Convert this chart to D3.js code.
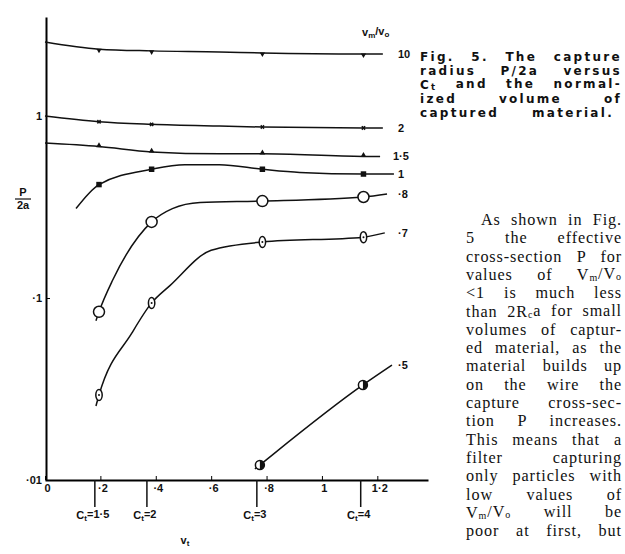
<!DOCTYPE html>
<html>
<head>
<meta charset="utf-8">
<script src="https://cdn.jsdelivr.net/npm/d3@7"></script>
<style>
body { margin:0; background:#fff; }
text { fill:#111; }
.lab { font-family:"Liberation Sans", Arial, sans-serif; font-weight:bold; font-size:11px; }
.cap { font-family:"DejaVu Sans", sans-serif; font-weight:bold; font-size:12px; letter-spacing:2.3px; }
.body { font-family:"Liberation Serif", "Times New Roman", serif; font-size:16.2px; letter-spacing:0.9px; }
</style>
</head>
<body>
<div id="chart"></div>
<script>

// values: x = v_t, y = P/2a (log)
const markV = [0.195, 0.385, 0.785, 1.15]   // C_t points where the marks sit

const v10 = [0, 0.195, 0.385, 0.63, 0.785, 1.15, 1.22]
const p10 = [2.55, 2.33, 2.28, 2.25, 2.22, 2.19, 2.19]
const mark10 = [2.33, 2.28, 2.22, 2.19]

const v2 = [0, 0.195, 0.385, 0.63, 0.785, 1.15, 1.22]
const p2 = [1.0, 0.93, 0.90, 0.88, 0.87, 0.86, 0.86]
const mark2 = [0.93, 0.90, 0.87, 0.86]

const v15 = [0, 0.195, 0.385, 0.63, 0.785, 1.15, 1.21]
const p15 = [0.71, 0.68, 0.635, 0.62, 0.62, 0.60, 0.60]
const mark15 = [0.68, 0.635, 0.62, 0.60]

const v1 = [0.112, 0.195, 0.385, 0.505, 0.63, 0.785, 0.92, 1.15, 1.26]
const p1 = [0.31, 0.42, 0.51, 0.54, 0.54, 0.51, 0.49, 0.48, 0.48]
const mark1 = [0.42, 0.51, 0.51, 0.48]

const v08 = [0.184, 0.195, 0.245, 0.385, 0.46, 0.56, 0.785, 1.15, 1.235]
const p08 = [0.075, 0.084, 0.126, 0.262, 0.31, 0.335, 0.341, 0.359, 0.373]
const mark08 = [0.084, 0.262, 0.341, 0.359]

const v07 = [0.184, 0.195, 0.314, 0.385, 0.451, 0.6, 0.785, 1.15, 1.227]
const p07 = [0.0255, 0.0293, 0.0643, 0.094, 0.117, 0.183, 0.203, 0.216, 0.228]
const mark07 = [0.0293, 0.094, 0.203, 0.216]

const v05 = [0.758, 0.776, 1.148, 1.253]
const p05 = [0.0115, 0.0121, 0.0333, 0.0428]
const markV05 = [0.776, 1.148]
const mark05 = [0.0121, 0.0333]

const ratioNames = ["10", "2", "1·5", "1", "·8", "·7", "·5"]

const xTicks = [0, 0.2, 0.4, 0.6, 0.8, 1, 1.2]
const xTickLabels = ["0", "·2", "·4", "·6", "·8", "1", "1·2"]
const yTicks = [0.01, 0.1, 1]
const yTickLabels = ["·01", "·1", "1"]

const ctV = [0.18, 0.368, 0.765, 1.14]
const ctLabels = ["1·5", "2", "3", "4"]

const captionLines = ["Fig. 5. The capture", "radius P/2a versus", "C|t| and the normal-", "ized volume of", "captured material."]
const bodyLines = [
  "As shown in Fig.", "5 the effective", "cross-section P for", "values of V|m|/V|o|",
  "<1 is much less", "than 2R|c|a for small", "volumes of captur-", "ed material, as the",
  "material builds up", "on the wire the", "capture cross-sec-", "tion P increases.",
  "This means that a", "filter capturing", "only particles with", "low values of",
  "V|m|/V|o| will be", "poor at first, but"
]

const W = 625, H = 554
const svg = d3.select("#chart").append("svg").attr("width", W).attr("height", H)

const x = d3.scaleLinear().domain([0, 1.383]).range([45, 428])
const y = d3.scaleLog().domain([0.01, 3.5]).range([480, 17])

// text with |sub| markup
function addRich(sel, str, subSize, shift) {
  shift = shift || "0.25em"
  str.split("|").forEach((part, i) => {
    if (!part) return
    const t = sel.append("tspan").text(part)
    if (i % 2 == 1) t.attr("font-size", subSize).attr("dy", shift)
    else if (i > 0) t.attr("dy", "-" + shift)
  })
}

// stretch the word gaps so the line ends at xEnd
function justify(t, x0, xEnd) {
  const w = t.node().getComputedTextLength()
  const n = (t.text().match(/ /g) || []).length
  if (n) t.attr("word-spacing", ((xEnd - x0) - w) / n)
}

// axes
const xAxis = d3.axisBottom(x).tickValues(xTicks).tickSize(-4).tickSizeOuter(0).tickPadding(4)
  .tickFormat((d, i) => xTickLabels[i])
const gx = svg.append("g").attr("transform", "translate(0,480)").call(xAxis)
gx.select(".domain").attr("stroke-width", 2)
gx.selectAll("text").attr("class", "lab").attr("font-size", null).attr("font-family", null).attr("dx", 2)

const yAxis = d3.axisLeft(y).tickValues(yTicks).tickSize(-4).tickSizeOuter(0).tickPadding(4)
  .tickFormat((d, i) => yTickLabels[i])
const gy = svg.append("g").attr("transform", "translate(46,0)").call(yAxis)
gy.select(".domain").attr("stroke-width", 2)
gy.selectAll("text").attr("class", "lab").attr("font-size", null).attr("font-family", null)

// C_t markers under the axis
ctV.forEach((v, i) => {
  svg.append("line").attr("x1", x(v)).attr("x2", x(v)).attr("y1", 480).attr("y2", 507)
    .attr("stroke", "#111").attr("stroke-width", 1.5)
  const t = svg.append("text").attr("class", "lab").attr("x", x(v) - 2).attr("y", 519).attr("text-anchor", "middle")
  addRich(t, "C|t|=" + ctLabels[i], 8)
})

const vt = svg.append("text").attr("class", "lab").attr("x", 185).attr("y", 544).attr("text-anchor", "middle")
addRich(vt, "v|t|", 8)

// y label P over 2a
svg.append("text").attr("class", "lab").attr("x", 23).attr("y", 196).attr("text-anchor", "middle").text("P")
svg.append("line").attr("x1", 15).attr("x2", 31).attr("y1", 199).attr("y2", 199).attr("stroke", "#111").attr("stroke-width", 1.2)
svg.append("text").attr("class", "lab").attr("x", 23).attr("y", 209).attr("text-anchor", "middle").text("2a")

// series
const seriesList = [
  { v: v10, p: p10, m: mark10, mv: markV, sym: "down" },
  { v: v2, p: p2, m: mark2, mv: markV, sym: "x" },
  { v: v15, p: p15, m: mark15, mv: markV, sym: "up" },
  { v: v1, p: p1, m: mark1, mv: markV, sym: "square" },
  { v: v08, p: p08, m: mark08, mv: markV, sym: "circle" },
  { v: v07, p: p07, m: mark07, mv: markV, sym: "oval" },
  { v: v05, p: p05, m: mark05, mv: markV05, sym: "half" }
]

const line = d3.line().x(d => x(d[0])).y(d => y(d[1])).curve(d3.curveMonotoneX)

seriesList.forEach((s, k) => {
  svg.append("path").datum(d3.zip(s.v, s.p)).attr("d", line)
    .attr("fill", "none").attr("stroke", "#111").attr("stroke-width", 1.5)

  const g = svg.append("g")
  d3.zip(s.mv, s.m).forEach(d => {
    const m = g.append("g").attr("transform", `translate(${x(d[0])},${y(d[1])})`)
    if (s.sym == "down") m.append("path").attr("d", d3.symbol(d3.symbolTriangle, 12)()).attr("transform", "rotate(180) translate(0,-1)").attr("fill", "#111")
    if (s.sym == "up") m.append("path").attr("d", d3.symbol(d3.symbolTriangle, 14)()).attr("transform", "translate(0,-1)").attr("fill", "#111")
    if (s.sym == "x") m.append("path").attr("d", d3.symbol(d3.symbolCross, 12)()).attr("transform", "rotate(45)").attr("fill", "#111")
    if (s.sym == "square") m.append("path").attr("d", d3.symbol(d3.symbolSquare, 30)()).attr("fill", "#111")
    if (s.sym == "circle") m.append("circle").attr("r", 5.5).attr("fill", "#fff").attr("stroke", "#111").attr("stroke-width", 1.5)
    if (s.sym == "oval") {
      m.append("ellipse").attr("rx", 3.2).attr("ry", 5.5).attr("fill", "#fff").attr("stroke", "#111").attr("stroke-width", 1.5)
      m.append("circle").attr("r", 1).attr("fill", "#111")
    }
    if (s.sym == "half") {
      m.append("circle").attr("r", 4.5).attr("fill", "#fff").attr("stroke", "#111").attr("stroke-width", 1.5)
      m.append("path").attr("d", "M0,-4.5 A4.5,4.5 0 0 1 0,4.5 Z").attr("fill", "#111")
    }
  })

  const last = s.p[s.p.length - 1]
  svg.append("text").attr("class", "lab").attr("x", k == 2 ? 393 : 398).attr("y", y(last) + 4).text(ratioNames[k])
})

// legend header V_m/V_o
const hdr = svg.append("text").attr("class", "lab").attr("x", 362).attr("y", 36)
addRich(hdr, "v|m|/v|o|", 8)

// caption
captionLines.forEach((c, i) => {
  const t = svg.append("text").attr("class", "cap").attr("x", 420).attr("y", 61 + i * 14)
  addRich(t, c, 8.5, "0.15em")
  justify(t, 420, i == 4 ? 614 : 622)
})

// body text column
bodyLines.forEach((b, i) => {
  const x0 = i == 0 ? 481 : 466
  const t = svg.append("text").attr("class", "body").attr("x", x0).attr("y", 225 + i * 18.3)
  addRich(t, b, 10, "0.1em")
  justify(t, x0, 622)
})

</script>
</body>
</html>
